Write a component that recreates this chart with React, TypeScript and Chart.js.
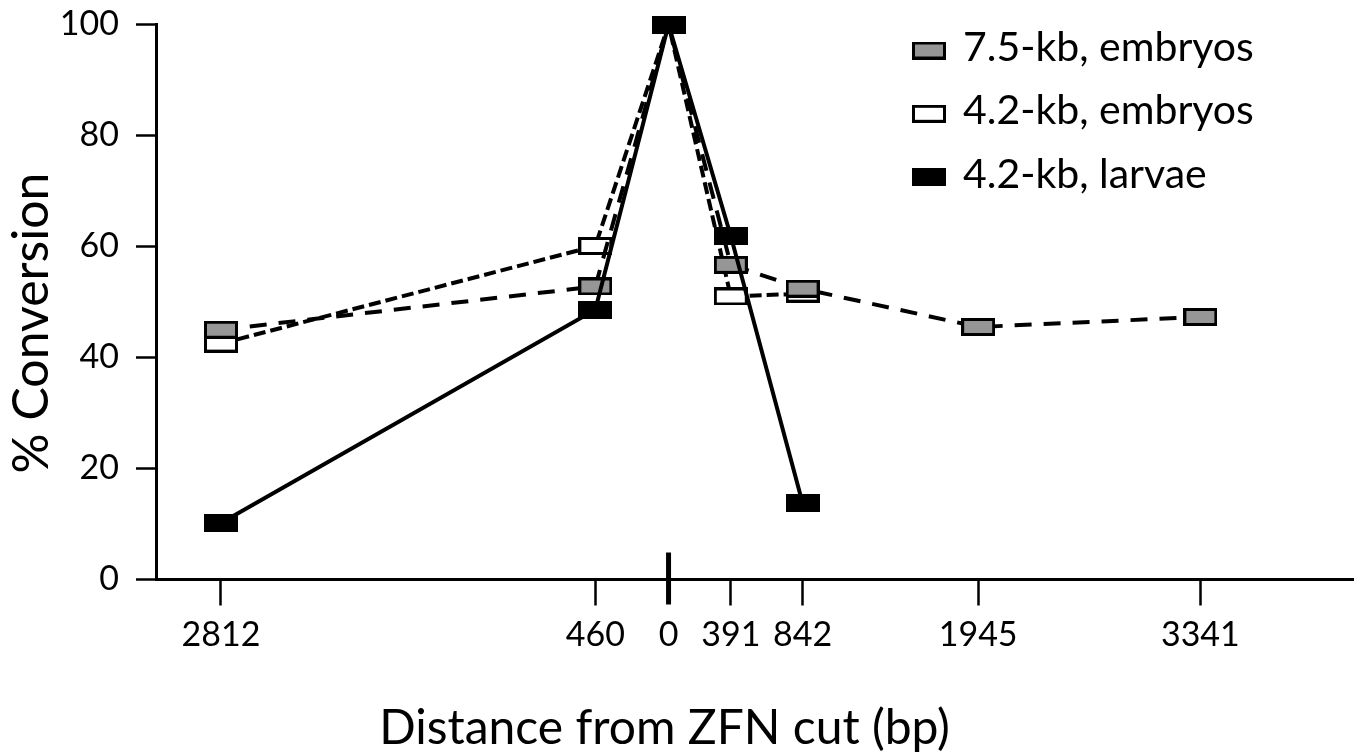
import React, { useEffect, useRef } from 'react';
import { Chart, registerables } from 'chart.js';

Chart.register(...registerables);

// ---- data ----
const distances = [-2812, -460, 0, 391, 842, 1945, 3341];
const tickValues = [-2812, -460, 0, 391, 842, 1945, 3341];
const seriesLabels = ['7.5-kb, embryos', '4.2-kb, embryos', '4.2-kb, larvae'];
const embryos75 = [45.0, 52.8, 100, 56.7, 52.4, 45.5, 47.3];
const embryos42 = [42.5, 60.1, 100, 51.0, 51.5];
const larvae42 = [10.2, 48.6, 100, 61.9, 13.8];
const yTickStep = 20;
const xTitle = 'Distance from ZFN cut (bp)';
const yTitle = '% Conversion';

const FONT = 'Lato, "Open Sans", sans-serif';

function makeMarker(fill: string): HTMLCanvasElement {
  const c = document.createElement('canvas');
  c.width = 34;
  c.height = 18;
  const g = c.getContext('2d')!;
  g.fillStyle = '#000';
  g.fillRect(0, 0, 34, 18);
  g.fillStyle = fill;
  g.fillRect(3, 3, 28, 12);
  return c;
}

function toPoints(vals: number[]) {
  return vals.map((v, i) => ({ x: distances[i], y: v }));
}

export default function App() {
  const ref = useRef<HTMLCanvasElement>(null);

  useEffect(() => {
    document.body.style.margin = '0';
    const canvas = ref.current!;
    const markers = [makeMarker('#969696'), makeMarker('#ffffff'), makeMarker('#000000')];
    const seriesData = [embryos75, embryos42, larvae42];
    const dashes = [[17, 12], [12, 5], []];
    const orders = [1, 2, 0];

    const extras = {
      id: 'extras',
      afterDraw(chart: any) {
        const { ctx, chartArea } = chart;
        const xs = chart.scales.x;
        const ys = chart.scales.y;
        ctx.save();
        // zero (cut site) tick crossing the axis
        const px = xs.getPixelForValue(0);
        ctx.strokeStyle = '#000';
        ctx.lineWidth = 5;
        ctx.beginPath();
        ctx.moveTo(px, ys.bottom - 27);
        ctx.lineTo(px, ys.bottom + 25);
        ctx.stroke();

        // legend
        const boxCx = chartArea.right - 424;
        const textX = chartArea.right - 390;
        ctx.font = `41px ${FONT}`;
        ctx.fillStyle = '#000';
        ctx.textAlign = 'left';
        ctx.textBaseline = 'alphabetic';
        seriesLabels.forEach((lab, i) => {
          const cy = chartArea.top + 26 + i * 63.3;
          const m = markers[i];
          ctx.drawImage(m, boxCx - m.width / 2, cy - m.height / 2);
          ctx.fillText(lab, textX, cy - 4 + 0.358 * 41);
        });

        // x axis title
        ctx.font = `48px ${FONT}`;
        ctx.textAlign = 'center';
        ctx.fillText(xTitle, px - 4, ys.bottom + 164);

        // y axis title
        ctx.translate(32, (chartArea.top + chartArea.bottom) / 2 + 21);
        ctx.rotate(-Math.PI / 2);
        ctx.font = `50px ${FONT}`;
        ctx.textAlign = 'center';
        ctx.textBaseline = 'middle';
        ctx.fillText(yTitle, 0, 0);
        ctx.restore();
      },
    };

    const chart = new Chart(canvas, {
      type: 'line',
      data: {
        datasets: seriesLabels.map((label, i) => ({
          label,
          data: toPoints(seriesData[i]),
          borderColor: '#000',
          borderWidth: 4,
          borderDash: dashes[i],
          pointStyle: markers[i],
          pointRadius: 5,
          pointHoverRadius: 5,
          tension: 0,
          fill: false,
          clip: false as any,
          order: orders[i],
        })),
      },
      options: {
        responsive: false,
        animation: false,
        devicePixelRatio: 1,
        events: [],
        layout: { padding: { top: 24.5, right: 7, left: 0, bottom: 0 } },
        plugins: {
          legend: { display: false },
          tooltip: { enabled: false },
          title: { display: false },
        },
        scales: {
          x: {
            type: 'linear',
            min: -3220,
            max: 4300,
            afterBuildTicks: (scale: any) => {
              scale.ticks = tickValues.map((v) => ({ value: v }));
            },
            afterFit: (scale: any) => {
              scale.height = 174.5;
              scale.paddingLeft = 0;
              scale.paddingRight = 0;
            },
            ticks: {
              autoSkip: false,
              maxRotation: 0,
              padding: 9,
              color: '#000',
              font: { family: FONT, size: 34 },
              callback: (v: any) => String(Math.abs(Number(v))),
            },
            grid: {
              drawOnChartArea: false,
              drawTicks: true,
              tickLength: 26,
              tickWidth: 2.5,
              tickColor: (c: any) => (c.tick && c.tick.value === 0 ? 'rgba(0,0,0,0)' : '#000'),
            },
            border: { display: true, color: '#000', width: 3 },
          },
          y: {
            type: 'linear',
            min: 0,
            max: 100,
            afterFit: (scale: any) => {
              scale.width = 156;
              scale.paddingTop = 0;
              scale.paddingBottom = 0;
            },
            ticks: {
              stepSize: yTickStep,
              padding: 17,
              color: '#000',
              font: { family: FONT, size: 34 },
            },
            grid: {
              drawOnChartArea: false,
              drawTicks: true,
              tickLength: 20,
              tickWidth: 2.5,
              tickColor: '#000',
            },
            border: { display: true, color: '#000', width: 3 },
          },
        },
      },
      plugins: [extras],
    } as any);

    return () => chart.destroy();
  }, []);

  return (
    <div style={{ width: 1362, height: 754 }}>
      <canvas ref={ref} width={1362} height={754} style={{ display: 'block' }} />
    </div>
  );
}
